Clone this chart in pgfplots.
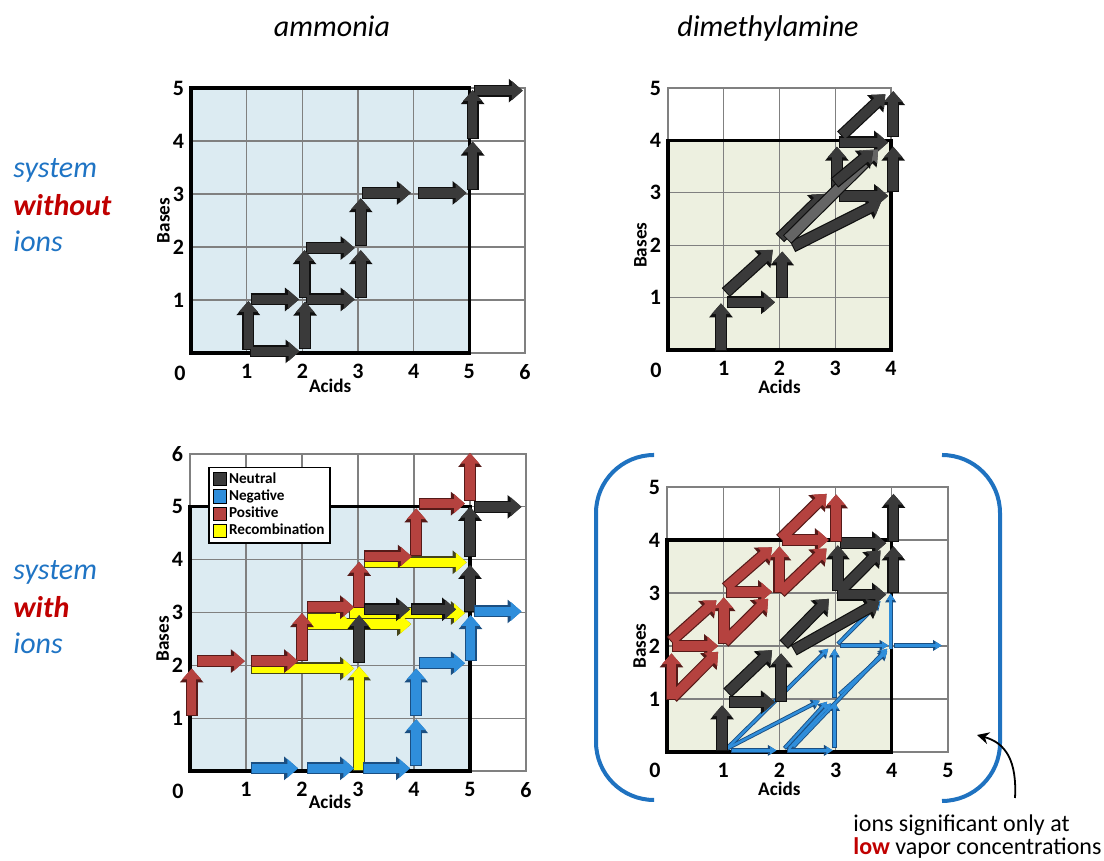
\documentclass[border=0pt]{standalone}
\usepackage{pgfplots}
\pgfplotsset{compat=1.18}
\usepackage{pgfplotstable}
\usepackage{fontspec}
\setmainfont{Carlito}
\usetikzlibrary{arrows.meta}

\definecolor{shadeA}{HTML}{DCEBF2}
\definecolor{shadeB}{HTML}{EDF0E0}
\definecolor{neuF}{HTML}{3A3A3A}
\definecolor{neuD}{HTML}{101010}
\definecolor{negF}{HTML}{2F8EDB}
\definecolor{negD}{HTML}{1B4F82}
\definecolor{posF}{HTML}{B5423F}
\definecolor{posD}{HTML}{561A18}
\definecolor{recF}{HTML}{FFFF00}
\definecolor{recD}{HTML}{45451A}
\definecolor{grayF}{HTML}{656565}
\definecolor{txtblue}{HTML}{1F74C4}
\definecolor{txtred}{HTML}{C00000}
\definecolor{brk}{HTML}{1F72C0}
\definecolor{gridc}{HTML}{808080}

\tikzset{
 bigO/.style={line width=6pt, shorten <=-0.5pt, -{Triangle[width=11.4pt,length=7pt]}},
 bigF/.style={line width=4.8pt, -{Triangle[width=9.2pt,length=5.4pt]}},
 thinO/.style={line width=2.1pt, shorten <=-0.4pt, -{Triangle[width=5.2pt,length=4.4pt]}},
 thinF/.style={line width=1.2pt, -{Triangle[width=3.6pt,length=3.2pt]}},
}
\newcommand{\arr}[4]{%
 \addplot[quiver={u={\thisrow{xe}-\thisrow{x}},v={\thisrow{ye}-\thisrow{y}}}, draw=#3, #4O] table[x=x,y=y] {#1};
 \addplot[quiver={u={\thisrow{xe}-\thisrow{x}},v={\thisrow{ye}-\thisrow{y}}}, draw=#2, #4F] table[x=x,y=y] {#1};
}

\pgfplotsset{panel/.style={
 scale only axis, anchor=south west, clip=false, set layers,
 grid=major, major grid style={draw=gridc, line width=0.55pt},
 axis line style={draw=gridc, line width=0.55pt},
 tick style={draw=none},
 /pgf/number format/assume math mode=true,
 ticklabel style={font=\bfseries\fontsize{11}{13}\selectfont},
 xticklabel style={yshift=-2.2pt},
 label style={font=\bfseries\fontsize{9.6}{11}\selectfont, inner sep=0.5pt},
 xlabel=Acids, ylabel=Bases,
}}

% ---------- data: start (x,y) and end (xe,ye) of each arrow ----------
\pgfplotstableread{
x y xe ye
1.03 0.08 1.03 0.98
1.08 0.03 1.95 0.03
1.09 1.01 1.94 1.01
2.05 0.09 2.05 0.97
2.04 1.06 2.04 1.94
2.08 1.01 2.94 1.01
2.08 1.98 2.94 1.98
3.05 1.06 3.05 1.94
3.05 2.04 3.05 2.92
3.09 3.02 3.95 3.02
4.10 3.02 4.95 3.02
5.06 3.09 5.06 3.99
5.06 4.05 5.06 4.96
5.10 4.95 5.96 4.95
}\tAneu

\pgfplotstableread{
x y xe ye
0.95 0.00 0.95 0.89
1.08 0.91 1.92 0.91
1.05 1.11 1.88 1.91
2.05 1.02 2.05 1.88
2.25 1.98 3.82 2.82
2.02 2.15 2.82 2.98
3.08 2.94 3.95 2.94
3.03 3.05 3.03 3.88
3.08 3.96 3.95 3.96
4.04 3.03 4.04 3.88
4.04 4.08 4.04 4.94
3.12 4.10 3.90 4.88
}\tBneu
\pgfplotstableread{
x y xe ye
2.15 2.12 3.77 3.83
}\tBgray
\pgfplotstableread{
x y xe ye
3.00 3.20 3.68 3.80
}\tBneuB

\pgfplotstableread{
x y xe ye
0.03 1.06 0.03 1.94
0.15 2.08 0.98 2.08
1.10 2.08 1.93 2.08
2.00 2.10 2.00 2.99
2.11 3.10 2.93 3.10
3.02 3.11 3.02 3.96
3.13 4.06 3.96 4.06
4.04 4.09 4.04 4.97
4.10 5.06 4.91 5.06
5.00 5.13 5.00 6.02
}\tCpos
\pgfplotstableread{
x y xe ye
3.02 2.07 3.02 2.95
3.13 3.06 3.93 3.06
3.96 3.06 4.75 3.06
5.00 3.02 5.00 3.90
5.00 4.06 5.00 5.00
5.09 5.00 5.92 5.00
}\tCneu
\pgfplotstableread{
x y xe ye
1.10 0.05 1.93 0.05
2.11 0.05 2.93 0.05
3.11 0.05 3.93 0.05
4.04 0.11 4.04 0.98
4.04 1.06 4.04 1.94
4.10 2.04 4.91 2.04
5.01 2.10 5.01 2.95
5.09 3.02 5.92 3.02
}\tCneg
\pgfplotstableread{
x y xe ye
3.02 0.02 3.02 1.98
1.10 1.94 2.93 1.94
2.11 2.78 3.95 2.78
2.11 2.89 2.80 2.89
2.86 2.99 4.91 2.99
3.13 3.95 4.94 3.95
}\tCrec

\pgfplotstableread{
x y xe ye
0.08 1.00 0.08 1.86
0.11 1.04 0.91 1.89
0.11 2.00 0.91 2.00
0.08 2.10 0.88 2.86
1.01 2.06 1.01 2.92
1.03 2.08 1.80 2.89
1.07 3.02 1.87 3.02
1.06 3.11 1.87 3.86
2.00 3.02 2.00 3.88
2.03 3.02 2.84 3.84
2.06 4.00 2.88 4.00
2.03 4.03 2.84 4.87
3.01 3.99 3.01 4.86
}\tDpos
\pgfplotstableread{
x y xe ye
0.98 0.03 0.98 0.88
1.12 0.94 1.92 0.94
1.09 1.13 1.87 1.92
2.03 0.97 2.03 1.86
2.09 2.04 2.88 2.89
2.27 1.93 3.78 2.83
3.04 2.97 3.90 2.97
3.04 3.05 3.04 3.90
3.07 3.02 3.80 3.80
3.10 3.94 3.90 3.94
4.03 3.02 4.03 3.88
4.03 3.99 4.03 4.87
}\tDneu
\pgfplotstableread{
x y xe ye
1.15 0.03 1.95 0.03
2.15 0.03 2.95 0.03
1.06 0.06 2.72 0.97
1.06 0.06 2.87 1.95
2.10 0.08 2.85 0.95
2.17 0.06 2.92 0.92
2.25 0.10 3.92 1.95
3.08 1.10 3.92 1.90
2.98 0.09 2.98 0.94
2.98 1.04 2.98 1.95
3.10 2.01 3.94 2.01
4.05 2.01 4.89 2.01
3.98 1.95 3.98 2.99
3.05 2.05 3.80 2.85
}\tDneg

\begin{document}
\begin{tikzpicture}[x=0.5pt,y=0.5pt]

% titles and side texts
\node[anchor=base, inner sep=0pt, font=\itshape\fontsize{15}{18}\selectfont] at (332,824) {ammonia};
\node[anchor=base, inner sep=0pt, font=\itshape\fontsize{15}{18}\selectfont] at (768,824) {dimethylamine};
\begin{scope}[every node/.style={anchor=base west, inner sep=0pt, font=\itshape\fontsize{15}{18}\selectfont}]
\node[text=txtblue] at (13,683) {system};
\node[text=txtred, font=\bfseries\itshape\fontsize{15}{18}\selectfont] at (13,645) {without};
\node[text=txtblue] at (13,609) {ions};
\node[text=txtblue] at (13,281) {system};
\node[text=txtred, font=\bfseries\itshape\fontsize{15}{18}\selectfont] at (13,243) {with};
\node[text=txtblue] at (13,207) {ions};
\end{scope}
\node[anchor=base west, inner sep=0pt, font=\fontsize{12}{14}\selectfont] at (853,29) {ions significant only at};
\node[anchor=base west, inner sep=0pt, font=\fontsize{12}{14}\selectfont] at (853,6) {\textbf{\textcolor{txtred}{low}} vapor concentrations};

% bracket and pointer
\draw[brk, line width=2pt, rounded corners=29pt] (653,406) -- (596,406) -- (596,61) -- (653,61);
\draw[brk, line width=2pt, rounded corners=29pt] (942,406) -- (1000,406) -- (1000,60) -- (942,60);
\draw[black, line width=0.9pt, -{Stealth[length=6pt,width=6pt]}] (1015,63) .. controls (1017,100) and (1006,118) .. (977,126);

% ---------------- panel 1: ammonia, without ions ----------------
\begin{axis}[panel, at={(95.5pt,254pt)}, width=167pt, height=132.5pt,
 xmin=0, xmax=6, ymin=0, ymax=5, xtick={1,...,6}, ytick={1,...,5},
 xlabel style={at={(axis description cs:0.4167,0)}, anchor=center, yshift=-16.5pt},
 ylabel style={at={(axis description cs:0,0.5)}, anchor=center, yshift=13.8pt}]
\addplot[fill=shadeA, draw=none, on layer=axis background] coordinates {(0,0) (5,0) (5,5) (0,5)} -- cycle;
\addplot[draw=black, line width=1.6pt] coordinates {(0,0) (5,0) (5,5) (0,5)} -- cycle;
\arr{\tAneu}{neuF}{neuD}{big}
\node[font=\bfseries\fontsize{11}{13}\selectfont] at (axis cs:0,0) [xshift=-5.5pt, yshift=-10pt] {0};
\end{axis}

% ---------------- panel 2: dimethylamine, without ions ----------------
\begin{axis}[panel, at={(334pt,255.5pt)}, width=111.5pt, height=131pt,
 xmin=0, xmax=4, ymin=0, ymax=5, xtick={1,...,4}, ytick={1,...,5},
 xlabel style={at={(axis description cs:0.5,0)}, anchor=center, yshift=-18.5pt},
 ylabel style={at={(axis description cs:0,0.4)}, anchor=center, yshift=13.8pt}]
\addplot[fill=shadeB, draw=none, on layer=axis background] coordinates {(0,0) (4,0) (4,4) (0,4)} -- cycle;
\addplot[draw=black, line width=1.6pt] coordinates {(0,0) (4,0) (4,4) (0,4)} -- cycle;
\arr{\tBneu}{neuF}{neuD}{big}
\arr{\tBgray}{grayF}{neuD}{big}
\arr{\tBneuB}{neuF}{neuD}{big}
\node[font=\bfseries\fontsize{11}{13}\selectfont] at (axis cs:0,0) [xshift=-6pt, yshift=-10pt] {0};
\end{axis}

% ---------------- panel 3: ammonia, with ions ----------------
\begin{axis}[panel, at={(95pt,45pt)}, width=168pt, height=158.5pt,
 xmin=0, xmax=6, ymin=0, ymax=6, xtick={1,...,6}, ytick={1,...,6},
 xlabel style={at={(axis description cs:0.4167,0)}, anchor=center, yshift=-15.5pt},
 ylabel style={at={(axis description cs:0,0.4167)}, anchor=center, yshift=13.6pt},
 legend style={at={(axis cs:0.32,5.76)}, anchor=north west, draw=black, line width=0.9pt,
   fill=white, font=\bfseries\fontsize{7.6}{9}\selectfont, inner xsep=2pt, inner ysep=1.5pt,
   nodes={inner sep=0.9pt}, row sep=0pt},
 legend cell align=left]
\addlegendimage{legend image code/.code={\draw[fill=neuF, draw=black, line width=0.4pt] (0.5pt,-3.3pt) rectangle (7.3pt,3.3pt);}}
\addlegendentry{Neutral}
\addlegendimage{legend image code/.code={\draw[fill=negF, draw=black, line width=0.4pt] (0.5pt,-3.3pt) rectangle (7.3pt,3.3pt);}}
\addlegendentry{Negative}
\addlegendimage{legend image code/.code={\draw[fill=posF, draw=black, line width=0.4pt] (0.5pt,-3.3pt) rectangle (7.3pt,3.3pt);}}
\addlegendentry{Positive}
\addlegendimage{legend image code/.code={\draw[fill=recF, draw=black, line width=0.4pt] (0.5pt,-3.3pt) rectangle (7.3pt,3.3pt);}}
\addlegendentry{Recombination}
\addplot[fill=shadeA, draw=none, on layer=axis background] coordinates {(0,0) (5,0) (5,5) (0,5)} -- cycle;
\addplot[draw=black, line width=1.6pt] coordinates {(0,0) (5,0) (5,5) (0,5)} -- cycle;
\arr{\tCrec}{recF}{recD}{big}
\arr{\tCpos}{posF}{posD}{big}
\arr{\tCneu}{neuF}{neuD}{big}
\arr{\tCneg}{negF}{negD}{big}
\node[font=\bfseries\fontsize{11}{13}\selectfont] at (axis cs:0,0) [xshift=-6pt, yshift=-10pt] {0};
\end{axis}

% ---------------- panel 4: dimethylamine, with ions ----------------
\begin{axis}[panel, at={(333.5pt,54.5pt)}, width=140.5pt, height=132.5pt,
 xmin=0, xmax=5, ymin=0, ymax=5, xtick={1,...,5}, ytick={1,...,5},
 xlabel style={at={(axis description cs:0.4,0)}, anchor=center, yshift=-18.5pt},
 ylabel style={at={(axis description cs:0,0.4)}, anchor=center, yshift=13.7pt}]
\addplot[fill=shadeB, draw=none, on layer=axis background] coordinates {(0,0) (4,0) (4,4) (0,4)} -- cycle;
\addplot[draw=black, line width=1.6pt] coordinates {(0,0) (4,0) (4,4) (0,4)} -- cycle;
\arr{\tDneg}{negF}{negD}{thin}
\arr{\tDneu}{neuF}{neuD}{big}
\arr{\tDpos}{posF}{posD}{big}
\node[font=\bfseries\fontsize{11}{13}\selectfont] at (axis cs:0,0) [xshift=-6pt, yshift=-9pt] {0};
\end{axis}

\pgfresetboundingbox
\path (0,0) rectangle (1104,861);
\end{tikzpicture}
\end{document}
